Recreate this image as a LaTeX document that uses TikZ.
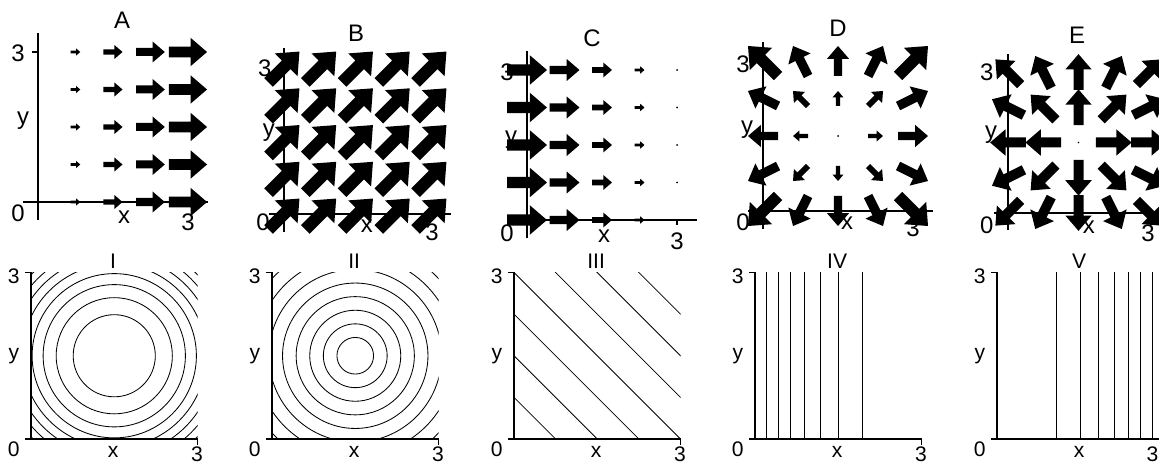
\documentclass[tikz,border=0pt]{standalone}
\usepackage{fontspec}
\setmainfont{Liberation Sans}
\usetikzlibrary{calc}

% filled quiver arrow centred at (#1,#2), vector (#3,#4)
\newcommand{\quiverarrow}[4]{%
  \pgfmathsetmacro\qu{#3}%
  \pgfmathsetmacro\qv{#4}%
  \pgfmathsetmacro\qw{-(#4)}%
  \pgfmathsetmacro\qlen{veclen(\qu,\qv)}%
  \ifdim\qlen pt<0.01pt
    \fill (#1,#2) circle[radius=0.02];%
  \else
    \fill[shift={(#1,#2)}, cm={\qu,\qv,\qw,\qu,(0,0)}]
      (-0.5,-0.14) -- (0.07,-0.14) -- (0.07,-0.37) -- (0.5,0)
      -- (0.07,0.37) -- (0.07,0.14) -- (-0.5,0.14) -- cycle;%
  \fi}

% axes of a field panel
\newcommand{\fieldaxes}{%
  \draw[axisline] (0,-0.36) -- (0,3.38);
  \draw[axisline] (-0.3,0) -- (3.4,0);
  \draw[axisline] (-0.12,3) -- (0,3);
  \draw[axisline] (3,0) -- (3,-0.1);}

% axes of a contour panel
\newcommand{\contouraxes}{%
  \draw[axisline] (-0.11,0) -- (3,0) -- (3,-0.11);
  \draw[axisline] (-0.11,3) -- (0,3) -- (0,0);}

\begin{document}
\begin{tikzpicture}[x=0.25mm, y=-0.25mm,
  toplbl/.style={font=\fontsize{17}{19}\selectfont, inner sep=0pt},
  botlbl/.style={font=\fontsize{15}{17}\selectfont, inner sep=0pt},
  axisline/.style={line width=0.8pt},
  contour/.style={line width=0.6pt}]
  \clip (0,0) rectangle (1159,464);

  % A: F = (x, 0)
  \begin{scope}[shift={(38,202)}, x=12.5mm, y=12.5mm]
    \fieldaxes
    \foreach \i in {0,...,4}
      \foreach \j in {0,...,4}
        {\quiverarrow{0.75*\i}{0.75*\j}{0.254*0.75*\i}{0}}
    \node[toplbl] (A-title) at (1.68,3.64) {A};
    \node[toplbl] (A-ytop) at (-0.4,2.98) {3};
    \node[toplbl] (A-zero) at (-0.4,-0.22) {0};
    \node[toplbl] (A-y) at (-0.3,1.62) {y};
    \node[toplbl] (A-x) at (1.72,-0.3) {x};
    \node[toplbl] (A-xtop) at (3.0,-0.4) {3};
  \end{scope}

  % B: F = (1, 1)
  \begin{scope}[shift={(284,214)}, x=12.25mm, y=12.25mm]
    \fieldaxes
    \foreach \i in {0,...,4}
      \foreach \j in {0,...,4}
        {\quiverarrow{0.75*\i}{0.75*\j}{0.63}{0.63}}
    \node[toplbl] (B-title) at (1.47,3.69) {B};
    \node[toplbl] (B-ytop) at (-0.39,2.98) {3};
    \node[toplbl] (B-zero) at (-0.43,-0.16) {0};
    \node[toplbl] (B-y) at (-0.31,1.65) {y};
    \node[toplbl] (B-x) at (1.69,-0.24) {x};
    \node[toplbl] (B-xtop) at (3.02,-0.37) {3};
  \end{scope}

  % C: F = (3 - x, 0)
  \begin{scope}[shift={(527,220)}, x=12.5mm, y=12.5mm]
    \fieldaxes
    \foreach \i in {0,...,4}
      \foreach \j in {0,...,4}
        {\quiverarrow{0.75*\i}{0.75*\j}{0.266*(3-0.75*\i)}{0}}
    \node[toplbl] (C-title) at (1.3,3.64) {C};
    \node[toplbl] (C-ytop) at (-0.4,2.96) {3};
    \node[toplbl] (C-zero) at (-0.4,-0.26) {0};
    \node[toplbl] (C-y) at (-0.32,1.6) {y};
    \node[toplbl] (C-x) at (1.54,-0.32) {x};
    \node[toplbl] (C-xtop) at (3.0,-0.42) {3};
  \end{scope}

  % D: F = (x - 1.5, y - 1.5)
  \begin{scope}[shift={(763,211)}, x=12.5mm, y=12.5mm]
    \fieldaxes
    \foreach \i in {0,...,4}
      \foreach \j in {0,...,4}
        {\quiverarrow{0.75*\i}{0.75*\j}{0.4*(0.75*\i-1.5)}{0.4*(0.75*\j-1.5)}}
    \node[toplbl] (D-title) at (1.5,3.66) {D};
    \node[toplbl] (D-ytop) at (-0.4,2.94) {3};
    \node[toplbl] (D-zero) at (-0.4,-0.22) {0};
    \node[toplbl] (D-y) at (-0.32,1.62) {y};
    \node[toplbl] (D-x) at (1.68,-0.24) {x};
    \node[toplbl] (D-xtop) at (3.0,-0.34) {3};
  \end{scope}

  % E: unit vectors pointing away from the centre
  \begin{scope}[shift={(1008,213)}, x=11.75mm, y=11.75mm]
    \fieldaxes
    \foreach \i in {0,...,4}
      \foreach \j in {0,...,4} {
        \pgfmathsetmacro\qx{0.75*\i-1.5}
        \pgfmathsetmacro\qy{0.75*\j-1.5}
        \pgfmathsetmacro\qr{max(veclen(\qx,\qy),0.001)}
        \quiverarrow{0.75*\i}{0.75*\j}{0.76*\qx/\qr}{0.76*\qy/\qr}
      }
    \node[toplbl] (E-title) at (1.47,3.79) {E};
    \node[toplbl] (E-ytop) at (-0.45,3.0) {3};
    \node[toplbl] (E-zero) at (-0.45,-0.26) {0};
    \node[toplbl] (E-y) at (-0.36,1.66) {y};
    \node[toplbl] (E-x) at (1.72,-0.3) {x};
    \node[toplbl] (E-xtop) at (2.98,-0.43) {3};
  \end{scope}

  % I: circles, closer together outwards
  \begin{scope}[shift={(31,439)}, x=13.875mm, y=13.875mm]
    \begin{scope}
      \clip (0,0) rectangle (3,3);
      \foreach \k in {1,...,8}
        \draw[contour] (1.5,1.5) circle[radius={0.74*sqrt(\k)}];
    \end{scope}
    \contouraxes
    \node[botlbl] (I-title) at (1.48,3.2) {I};
    \node[botlbl] (I-ytop) at (-0.31,2.94) {3};
    \node[botlbl] (I-zero) at (-0.31,-0.18) {0};
    \node[botlbl] (I-y) at (-0.31,1.5) {y};
    \node[botlbl] (I-x) at (1.48,-0.23) {x};
    \node[botlbl] (I-xtop) at (2.99,-0.28) {3};
  \end{scope}

  % II: evenly spaced circles
  \begin{scope}[shift={(272,439)}, x=13.875mm, y=13.875mm]
    \begin{scope}
      \clip (0,0) rectangle (3,3);
      \foreach \k in {0,...,7}
        \draw[contour] (1.5,1.5) circle[radius={0.33+0.245*\k}];
    \end{scope}
    \contouraxes
    \node[botlbl] (II-title) at (1.48,3.2) {II};
    \node[botlbl] (II-ytop) at (-0.31,2.94) {3};
    \node[botlbl] (II-zero) at (-0.31,-0.18) {0};
    \node[botlbl] (II-y) at (-0.31,1.5) {y};
    \node[botlbl] (II-x) at (1.48,-0.23) {x};
    \node[botlbl] (II-xtop) at (2.99,-0.28) {3};
  \end{scope}

  % III: x + y = const
  \begin{scope}[shift={(514,439)}, x=13.875mm, y=13.875mm]
    \begin{scope}
      \clip (0,0) rectangle (3,3);
      \foreach \c in {0.75,1.5,...,5.25}
        \draw[contour] (\c,0) -- (0,\c);
    \end{scope}
    \contouraxes
    \node[botlbl] (III-title) at (1.48,3.2) {III};
    \node[botlbl] (III-ytop) at (-0.31,2.94) {3};
    \node[botlbl] (III-zero) at (-0.31,-0.18) {0};
    \node[botlbl] (III-y) at (-0.31,1.5) {y};
    \node[botlbl] (III-x) at (1.48,-0.23) {x};
    \node[botlbl] (III-xtop) at (2.99,-0.28) {3};
  \end{scope}

  % IV: vertical lines, wider apart to the right
  \begin{scope}[shift={(755,439)}, x=13.875mm, y=13.875mm]
    \foreach \p in {0.198,0.42,0.636,0.888,1.17,1.506,1.938}
      \draw[contour] (\p,0) -- (\p,3);
    \contouraxes
    \node[botlbl] (IV-title) at (1.48,3.2) {IV};
    \node[botlbl] (IV-ytop) at (-0.31,2.94) {3};
    \node[botlbl] (IV-zero) at (-0.31,-0.18) {0};
    \node[botlbl] (IV-y) at (-0.31,1.5) {y};
    \node[botlbl] (IV-x) at (1.48,-0.23) {x};
    \node[botlbl] (IV-xtop) at (2.99,-0.28) {3};
  \end{scope}

  % V: mirror of IV
  \begin{scope}[shift={(997,439)}, x=13.875mm, y=13.875mm]
    \foreach \p in {0.198,0.42,0.636,0.888,1.17,1.506,1.938}
      \draw[contour] (3-\p,0) -- (3-\p,3);
    \contouraxes
    \node[botlbl] (V-title) at (1.48,3.2) {V};
    \node[botlbl] (V-ytop) at (-0.31,2.94) {3};
    \node[botlbl] (V-zero) at (-0.31,-0.18) {0};
    \node[botlbl] (V-y) at (-0.31,1.5) {y};
    \node[botlbl] (V-x) at (1.48,-0.23) {x};
    \node[botlbl] (V-xtop) at (2.8,-0.28) {3};
  \end{scope}
\end{tikzpicture}
\end{document}
